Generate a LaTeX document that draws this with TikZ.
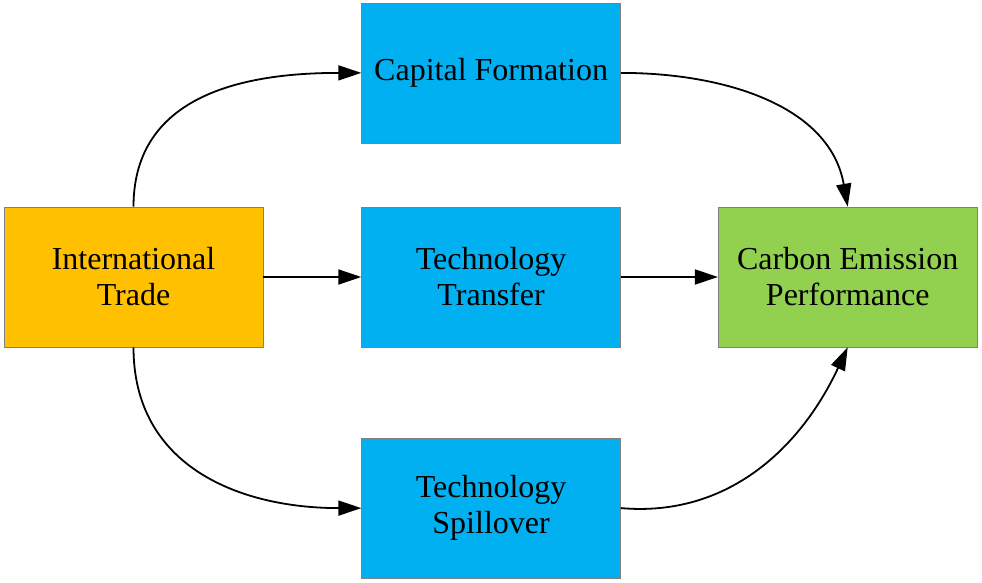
\documentclass[tikz,border=0pt]{standalone}
\usepackage{fontspec}
\setmainfont{Liberation Serif}
\usetikzlibrary{positioning,arrows.meta}
\definecolor{tradeorange}{HTML}{FFC000}
\definecolor{pathblue}{HTML}{00B0F0}
\definecolor{cepgreen}{HTML}{92D050}

\begin{document}
\begin{tikzpicture}[x=1pt, y=1pt,
    box/.style = {draw=gray, line width=0.6pt, minimum width=259pt, minimum height=140pt,
                  align=center, font=\fontsize{32}{36}\selectfont},
    link/.style = {-{Triangle[length=23pt, width=15pt]}, line width=1.8pt}]
    \useasboundingbox (0,0) rectangle (982,-583);
    \node[box, fill=tradeorange] (trade) at (133.5,-277) {International\\Trade};
    \node[box, fill=pathblue] (transfer) [right=98pt of trade] {Technology\\Transfer};
    \node[box, fill=pathblue] (capital) [above=63.5pt of transfer] {Capital Formation};
    \node[box, fill=pathblue] (spill) [below=90.5pt of transfer] {Technology\\Spillover};
    \node[box, fill=cepgreen] (cep) [right=97pt of transfer] {Carbon Emission\\Performance};
    \draw[link] (trade) to (transfer);
    \draw[link] (transfer) to (cep);
    \draw[link] (trade.north) to[out=90, in=180, looseness=1.1] (capital.west);
    \draw[link] (capital.east) to[out=0, in=100] (cep.north);
    \draw[link] (trade.south) to[out=-90, in=180, looseness=1.1] (spill.west);
    \draw[link] (spill.east) to[out=-5, in=-115] (cep.south);
\end{tikzpicture}
\end{document}
